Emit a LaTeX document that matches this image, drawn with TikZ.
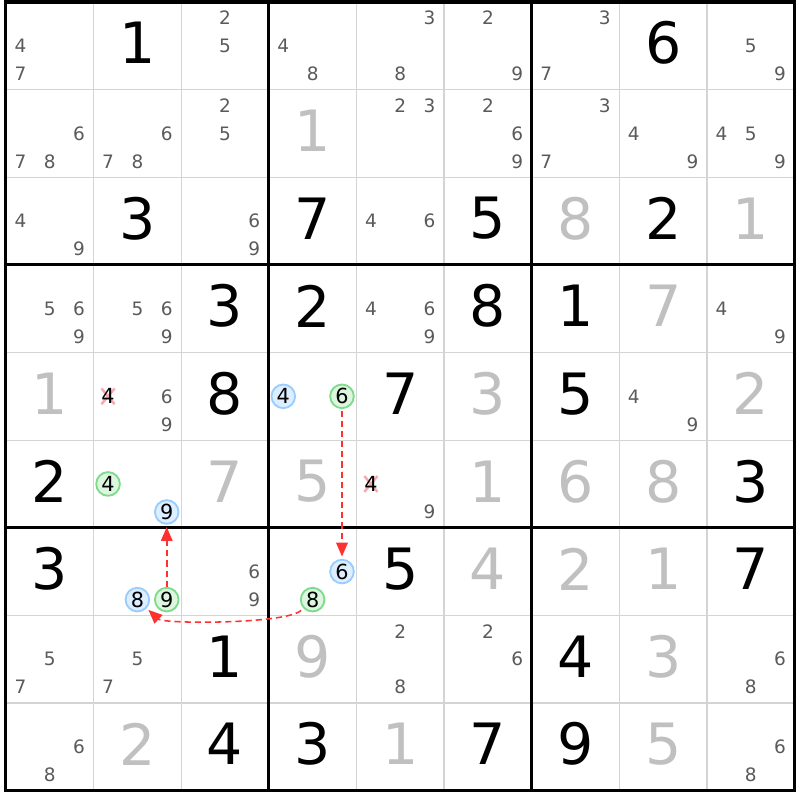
\documentclass[tikz,border=0pt]{standalone}
\usepackage{fontspec}
\setmainfont{DejaVu Sans}
\usepackage{tikz}
\usepackage{xcolor}
\usetikzlibrary{arrows.meta,calc}
\definecolor{candgray}{HTML}{5A5A5A}
\definecolor{solvgray}{HTML}{C0C0C0}
\definecolor{thingray}{HTML}{D4D4D4}
\definecolor{blueedge}{HTML}{99CCFF}
\definecolor{bluefill}{HTML}{DCEEFF}
\definecolor{greenedge}{HTML}{7EDB8C}
\definecolor{greenfill}{HTML}{DDF6DF}
\definecolor{crosspink}{HTML}{F7A8B0}
\definecolor{linkred}{HTML}{FF3030}

\begin{document}
\begin{tikzpicture}[x=2cm,y=-2cm,
  cand/.style={inner sep=0pt,text=candgray,font=\fontsize{12}{13}\selectfont},
  given/.style={inner sep=0pt,font=\fontsize{37}{40}\selectfont},
  solved/.style={given,text=solvgray},
  onblue/.style={circle,draw=blueedge,fill=bluefill,line width=1.2pt,minimum size=0.54cm,inner sep=0pt,font=\fontsize{13.5}{14}\selectfont},
  ongreen/.style={onblue,draw=greenedge,fill=greenfill},
  link/.style={draw=linkred,line width=1pt,dash pattern=on 4pt off 2.6pt,-{Triangle[length=9pt,width=7.5pt]}}]
\useasboundingbox (-0.068,-0.023) rectangle (9.062,9.107);
\fill[white] (-0.068,-0.023) rectangle (9.062,9.107);
% cell lines
\foreach \i in {1,2,4,5,7,8} {
\draw[thingray,line width=0.8pt] (\i,0) -- (\i,9);
\draw[thingray,line width=0.8pt] (0,\i) -- (9,\i);
}
\foreach \i in {3,6} {
\draw[line width=2pt] (\i,0) -- (\i,9);
\draw[line width=2pt] (0,\i) -- (9,\i);
}
\draw[line width=2pt] (0,0) rectangle (9,9);
% givens
\foreach \rr/\cc/\dd in {1/2/1,1/8/6,3/2/3,3/4/7,3/6/5,3/8/2,4/3/3,4/4/2,4/6/8,4/7/1,5/3/8,5/5/7,5/7/5,6/1/2,6/9/3,7/1/3,7/5/5,7/9/7,8/3/1,8/7/4,9/3/4,9/4/3,9/6/7,9/7/9}
\node[given] at (\cc-0.5,\rr-0.53) {\dd};
% solved
\foreach \rr/\cc/\dd in {2/4/1,3/7/8,3/9/1,4/8/7,5/1/1,5/6/3,5/9/2,6/3/7,6/4/5,6/6/1,6/7/6,6/8/8,7/6/4,7/7/2,7/8/1,8/4/9,8/8/3,9/2/2,9/5/1,9/8/5}
\node[solved] at (\cc-0.5,\rr-0.53) {\dd};
% candidates
\foreach \rr/\cc/\dd in {1/1/4,1/1/7,1/3/2,1/3/5,1/4/4,1/4/8,1/5/3,1/5/8,1/6/2,1/6/9,1/7/3,1/7/7,1/9/5,1/9/9,
  2/1/6,2/1/7,2/1/8,2/2/6,2/2/7,2/2/8,2/3/2,2/3/5,2/5/2,2/5/3,2/6/2,2/6/6,2/6/9,2/7/3,2/7/7,2/8/4,2/8/9,2/9/4,2/9/5,2/9/9,
  3/1/4,3/1/9,3/3/6,3/3/9,3/5/4,3/5/6,
  4/1/5,4/1/6,4/1/9,4/2/5,4/2/6,4/2/9,4/5/4,4/5/6,4/5/9,4/9/4,4/9/9,
  5/2/6,5/2/9,5/8/4,5/8/9,6/5/9,7/3/6,7/3/9,
  8/1/5,8/1/7,8/2/5,8/2/7,8/5/2,8/5/8,8/6/2,8/6/6,8/9/6,8/9/8,
  9/1/6,9/1/8,9/9/6,9/9/8}
\node[cand] at ({\cc-0.5+(mod(\dd-1,3)-1)*0.335},{\rr-0.5+(int((\dd-1)/3)-1)*0.32}) {\dd};
% eliminated
\foreach \x/\y in {1.165/4.5,4.165/5.5} {
\draw[crosspink,line width=1.6pt] ({\x-0.075},{\y-0.09}) -- ({\x+0.075},{\y+0.09});
\draw[crosspink,line width=1.6pt] ({\x-0.075},{\y+0.09}) -- ({\x+0.075},{\y-0.09});
\node[cand,text=black,font=\fontsize{13.5}{14}\selectfont] at (\x,\y) {4};
}
% chain
\node[onblue] (n544) at (3.165,4.5) {4};
\node[ongreen] (n546) at (3.835,4.5) {6};
\node[ongreen] (n624) at (1.165,5.5) {4};
\node[onblue] (n629) at (1.835,5.82) {9};
\node[onblue] (n728) at (1.5,6.82) {8};
\node[ongreen] (n729) at (1.835,6.82) {9};
\node[onblue] (n746) at (3.835,6.5) {6};
\node[ongreen] (n748) at (3.5,6.82) {8};
\draw[link,shorten <=1pt,shorten >=1.5pt] (n546) -- (n746);
\draw[link,shorten >=1.5pt] (n729) -- (n629);
\draw[link,shorten <=2pt,shorten >=1.5pt] (n748) .. controls ($(n748)+(-0.3,0.28)$) and ($(n728)+(0.3,0.28)$) .. (n728);
\end{tikzpicture}
\end{document}
